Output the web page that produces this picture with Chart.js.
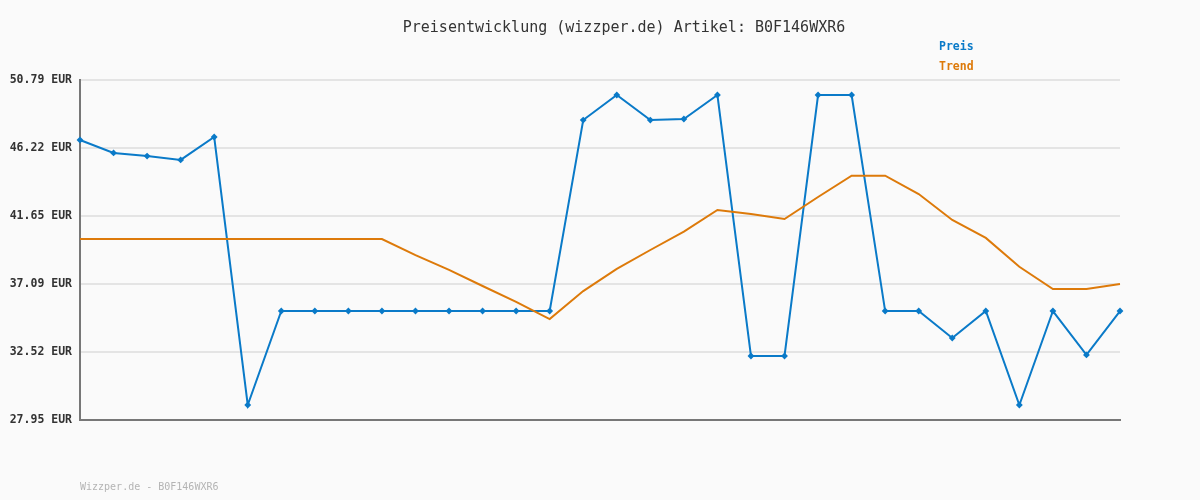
<!DOCTYPE html>
<html>
<head>
<meta charset="utf-8">
<script src="https://cdn.jsdelivr.net/npm/chart.js@4.4.1/dist/chart.umd.min.js"></script>
<style>
  html, body { margin: 0; padding: 0; background: #fafafa; }
  #wrap { width: 1200px; height: 500px; }
</style>
</head>
<body>
<div id="wrap"><canvas id="myChart" width="1200" height="500"></canvas></div>
<script>
const titleText = "Preisentwicklung (wizzper.de) Artikel: B0F146WXR6";
const footerText = "Wizzper.de - B0F146WXR6";
const labels = [];
for (let i = 1; i <= 32; i++) labels.push(String(i));

const preis = [46.76, 45.89, 45.68, 45.42, 46.96, 28.96, 35.27, 35.27, 35.27, 35.27,
  35.27, 35.27, 35.27, 35.27, 35.27, 48.10, 49.78, 48.10, 48.17, 49.78,
  32.25, 32.25, 49.78, 49.78, 35.27, 35.27, 33.46, 35.27, 28.96, 35.27,
  32.32, 35.27];
const trend = [40.11, 40.11, 40.11, 40.11, 40.11, 40.11, 40.11, 40.11, 40.11, 40.11,
  39.03, 38.03, 36.95, 35.88, 34.73, 36.61, 38.10, 39.37, 40.60, 42.06,
  41.79, 41.45, 42.93, 44.36, 44.36, 43.13, 41.39, 40.18, 38.24, 36.75,
  36.75, 37.09];
const yTicks = [27.95, 32.52, 37.09, 41.65, 46.22, 50.79];

const blue = "#0a7ac8";
const orange = "#dd7a0a";
const mono = "'DejaVu Sans Mono', monospace";

// title, legend and footer drawn by hand
const textPlugin = {
  id: "texts",
  afterDraw(chart) {
    const ctx = chart.ctx;
    ctx.save();
    ctx.textBaseline = "middle";
    ctx.font = "15px " + mono;
    ctx.fillStyle = "#333";
    ctx.textAlign = "center";
    ctx.fillText(titleText, 624, 28);
    ctx.textAlign = "left";
    ctx.font = "bold 11.5px " + mono;
    ctx.fillStyle = blue;
    ctx.fillText("Preis", 939, 47);
    ctx.fillStyle = orange;
    ctx.fillText("Trend", 939, 67);
    ctx.font = "10px " + mono;
    ctx.fillStyle = "#b4b4b4";
    ctx.fillText(footerText, 80, 487);
    ctx.restore();
  },
};

const data = {
  labels: labels,
  datasets: [
    {
      label: "Trend",
      data: trend,
      borderColor: orange,
      borderWidth: 2,
      pointRadius: 0,
      tension: 0,
    },
    {
      label: "Preis",
      data: preis,
      borderColor: blue,
      backgroundColor: blue,
      borderWidth: 2,
      pointRadius: 2,
      pointStyle: "rectRot",
      tension: 0,
    },
  ],
};

const config = {
  type: "line",
  data: data,
  options: {
    responsive: false,
    animation: false,
    layout: { padding: { top: 80, bottom: 80, right: 80, left: 0 } },
    plugins: {
      legend: { display: false },
      title: { display: false },
      tooltip: { enabled: false },
    },
    scales: {
      x: {
        offset: false,
        grid: { display: false },
        ticks: { display: false },
        border: { color: "#777", width: 2 },
        afterFit(scale) { scale.height = 0; },
      },
      y: {
        min: 27.95,
        max: 50.79,
        afterBuildTicks(scale) {
          scale.ticks = yTicks.map((v) => ({ value: v }));
        },
        afterFit(scale) { scale.width = 80; },
        grid: { color: "#e4e4e4", lineWidth: 2, drawTicks: false },
        border: { color: "#777", width: 2 },
        ticks: {
          padding: 8,
          color: "#333",
          font: { family: mono, size: 11.5, weight: "bold" },
          callback: (v) => Number(v).toFixed(2) + " EUR",
        },
      },
    },
  },
  plugins: [textPlugin],
};

const myChart = new Chart(document.getElementById("myChart"), config);
</script>
</body>
</html>
